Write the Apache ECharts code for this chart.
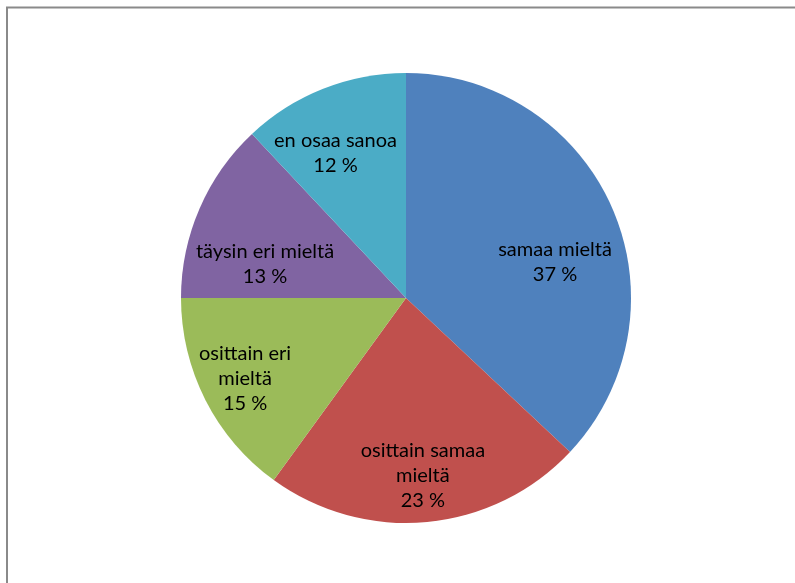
<!DOCTYPE html>
<html>
<head>
<meta charset="utf-8">
<script src="https://cdn.jsdelivr.net/npm/echarts@6/dist/echarts.min.js"></script>
<style>
html,body{margin:0;padding:0;background:#fff;}
#chart{width:795px;height:583px;}
</style>
</head>
<body>
<div id="chart"></div>
<script>
const categories = ['samaa mieltä', 'osittain samaa mieltä', 'osittain eri mieltä', 'täysin eri mieltä', 'en osaa sanoa'];
const labelTexts = ['samaa mieltä', 'osittain samaa\nmieltä', 'osittain eri\nmieltä', 'täysin eri mieltä', 'en osaa sanoa'];
const values = [37, 23, 15, 13, 12];
const colors = ['#4F81BD', '#C0504D', '#9BBB59', '#8064A2', '#4BACC6'];
const labelOffsets = [[43, 10], [6, 63], [-58, 28], [-35, 12], [-28, -38]];

const chart = echarts.init(document.getElementById('chart'), null, {renderer: 'canvas'});
chart.setOption({
  animation: false,
  backgroundColor: '#ffffff',
  graphic: [{
    type: 'rect',
    shape: {x: 7, y: 7.5, width: 900, height: 700},
    style: {fill: 'none', stroke: '#8a8a8a', lineWidth: 2},
    z: 0
  }],
  series: [{
    type: 'pie',
    center: [406, 298],
    radius: [0, 225],
    startAngle: 90,
    clockwise: true,
    avoidLabelOverlap: false,
    itemStyle: {borderWidth: 0},
    label: {
      show: true,
      position: 'inside',
      color: '#000',
      fontFamily: 'Lato',
      fontSize: 20,
      lineHeight: 25,
      align: 'center',
      formatter: function (p) { return labelTexts[p.dataIndex] + '\n' + p.value + ' %'; }
    },
    labelLine: {show: false},
    labelLayout: function (p) {
      const o = labelOffsets[p.dataIndex];
      return {dx: o[0], dy: o[1]};
    },
    emphasis: {disabled: true},
    data: categories.map((c, i) => ({name: c, value: values[i], itemStyle: {color: colors[i]}}))
  }]
});
</script>
</body>
</html>
